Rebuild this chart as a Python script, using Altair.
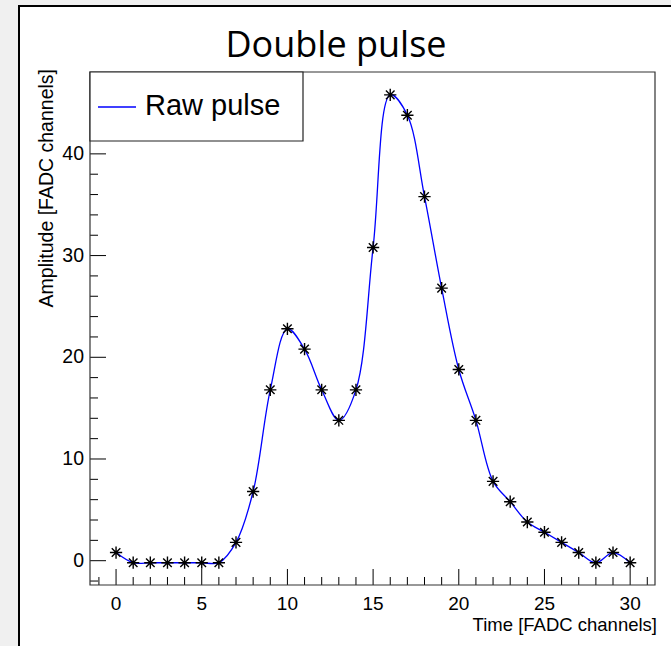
import altair as alt
import pandas as pd

# ---- data ----
time = list(range(31))
amplitude = [0.8, -0.2, -0.2, -0.2, -0.2, -0.2, -0.2, 1.8, 6.8, 16.8,
             22.8, 20.8, 16.8, 13.8, 16.8, 30.8, 45.8, 43.8, 35.8, 26.8,
             18.8, 13.8, 7.8, 5.8, 3.8, 2.8, 1.8, 0.8, -0.2, 0.8, -0.2]

x_label_values = [0, 5, 10, 15, 20, 25, 30]
x_minor_values = [v for v in range(-1, 32) if v % 5 != 0]
y_label_values = [0, 10, 20, 30, 40]
y_minor_values = [v for v in range(-2, 49, 2) if v % 10 != 0]

title_text = "Double pulse"
x_title = "Time [FADC channels]"
y_title = "Amplitude [FADC channels]"
legend_label = "Raw pulse"

W, H = 565, 513
x_dom = [-1.52, 31.45]
y_dom = [-2.39, 48.05]

xs = alt.Scale(domain=x_dom, nice=False, zero=False)
ys = alt.Scale(domain=y_dom, nice=False, zero=False)

df = pd.DataFrame({"t": time, "a": amplitude})
one = pd.DataFrame({"k": [0]})
xl = pd.DataFrame({"v": x_label_values})
yl = pd.DataFrame({"v": y_label_values})

lab_font = "Liberation Sans"

line = alt.Chart(df).mark_line(interpolate="catmull-rom", color="#0000ff", strokeWidth=1.3).encode(
    x=alt.X("t:Q", scale=xs, axis=None),
    y=alt.Y("a:Q", scale=ys, axis=None),
)

star = "M-1,0L1,0M0,-1L0,1M-0.7,-0.7L0.7,0.7M-0.7,0.7L0.7,-0.7"
points = alt.Chart(df).mark_point(shape=star, size=150, filled=False, stroke="#000", strokeWidth=1.4, opacity=1).encode(
    x=alt.X("t:Q", scale=xs, axis=None),
    y=alt.Y("a:Q", scale=ys, axis=None),
)

# ticks inside the frame (ROOT style)
xmaj = alt.Chart(xl).mark_rule(color="#000", strokeWidth=1).encode(
    x=alt.X("v:Q", scale=xs, axis=None), y=alt.value(H), y2=alt.value(H - 16))
xmin = alt.Chart(pd.DataFrame({"v": x_minor_values})).mark_rule(color="#000", strokeWidth=1).encode(
    x=alt.X("v:Q", scale=xs, axis=None), y=alt.value(H), y2=alt.value(H - 8))
ymaj = alt.Chart(yl).mark_rule(color="#000", strokeWidth=1).encode(
    y=alt.Y("v:Q", scale=ys, axis=None), x=alt.value(0), x2=alt.value(16))
ymin = alt.Chart(pd.DataFrame({"v": y_minor_values})).mark_rule(color="#000", strokeWidth=1).encode(
    y=alt.Y("v:Q", scale=ys, axis=None), x=alt.value(0), x2=alt.value(8))

# tick labels
xlab = alt.Chart(xl).mark_text(font=lab_font, fontSize=19, align="center", baseline="middle", color="#000").encode(
    x=alt.X("v:Q", scale=xs, axis=None), y=alt.value(H + 19), text=alt.Text("v:Q", format="d"))
ylab = alt.Chart(yl).mark_text(font=lab_font, fontSize=19.5, align="right", baseline="middle", color="#000").encode(
    y=alt.Y("v:Q", scale=ys, axis=None), x=alt.value(-6), text=alt.Text("v:Q", format="d"))

# white canvas panel with black border
panel = alt.Chart(one).mark_rect(fill="white", stroke="#000", strokeWidth=2).encode(
    x=alt.value(-71), x2=alt.value(W + 40), y=alt.value(-66), y2=alt.value(H + 80))

frame = alt.Chart(one).mark_rect(fillOpacity=0, stroke="#333", strokeWidth=1.2).encode(
    x=alt.value(0), x2=alt.value(W), y=alt.value(0), y2=alt.value(H))

# legend box
leg_box = alt.Chart(one).mark_rect(fill="white", stroke="#222", strokeWidth=1.2).encode(
    x=alt.value(0), x2=alt.value(213), y=alt.value(0), y2=alt.value(69))
leg_line = alt.Chart(one).mark_rule(color="#0000ff", strokeWidth=1.3).encode(
    x=alt.value(8), x2=alt.value(46), y=alt.value(35))
leg_text = alt.Chart(one).mark_text(text=legend_label, font=lab_font, fontSize=29, align="left",
                                    baseline="alphabetic", color="#000").encode(
    x=alt.value(55), y=alt.value(43))

title = alt.Chart(one).mark_text(text=title_text, font="Open Sans", fontSize=36, align="center",
                                 baseline="alphabetic", color="#000").encode(
    x=alt.value(246), y=alt.value(-15))
xt = alt.Chart(one).mark_text(text=x_title, font=lab_font, fontSize=18.5, align="right",
                              baseline="middle", color="#000").encode(
    x=alt.value(567), y=alt.value(553))
yt = alt.Chart(one).mark_text(text=y_title, font=lab_font, fontSize=19.5, align="right",
                              baseline="middle", angle=270, color="#000").encode(
    x=alt.value(-43), y=alt.value(-3))

chart = alt.layer(panel, title, xt, yt, xlab, ylab, line, points, xmaj, xmin, ymaj, ymin, frame,
                  leg_box, leg_line, leg_text).properties(
    width=W, height=H,
    autosize=alt.AutoSizeParams(type="none"),
    padding={"left": 90, "top": 72, "right": 16, "bottom": 61},
    background="#f0f0f0",
).configure_view(stroke="transparent")

chart.save("out.html", embed_options={"renderer": "svg", "actions": False})
